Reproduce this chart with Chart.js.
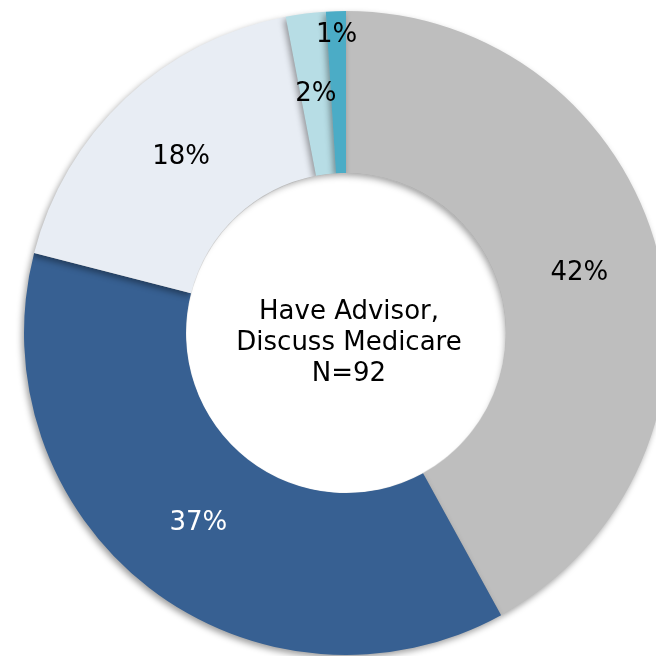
<!DOCTYPE html>
<html>
<head>
<meta charset="utf-8">
<script src="https://cdn.jsdelivr.net/npm/chart.js@4/dist/chart.umd.min.js"></script>
<style>
  html, body { margin: 0; padding: 0; background: #ffffff; overflow: hidden; width: 656px; height: 656px; }
  #wrap { position: absolute; left: 0; top: 0; width: 700px; height: 700px; }
</style>
</head>
<body>
<div id="wrap"><canvas id="c" width="700" height="700"></canvas></div>
<script>
const categories = ["Segment A", "Segment B", "Segment C", "Segment D", "Segment E"];
const values = [42, 37, 18, 2, 1];
const labels = ["42%", "37%", "18%", "2%", "1%"];
const colors = ["#BEBEBE", "#376092", "#E8EDF4", "#B7DDE5", "#4BACC6"];
const labelColors = ["#000000", "#FFFFFF", "#000000", "#000000", "#000000"];
const centerLines = ["Have Advisor,", "Discuss Medicare", "N=92"];

const FONT = "'DejaVu Sans', Verdana, sans-serif";

const shadowPlugin = {
  id: 'shadow',
  beforeDatasetsDraw(chart) {
    const ctx = chart.ctx;
    ctx.save();
    ctx.shadowColor = 'rgba(0,0,0,0.38)';
    ctx.shadowBlur = 6;
    ctx.shadowOffsetX = -2;
    ctx.shadowOffsetY = 3;
  },
  afterDatasetsDraw(chart) {
    const ctx = chart.ctx;
    ctx.restore();
    // inner hole inset shading
    const arc = chart.getDatasetMeta(0).data[0];
    const cx = arc.x, cy = arc.y, r = arc.innerRadius;
    ctx.save();
    ctx.beginPath();
    ctx.arc(cx, cy, r - 0.5, 0, Math.PI * 2);
    ctx.clip();
    ctx.fillStyle = '#ffffff';
    ctx.fillRect(cx - r - 2, cy - r - 2, 2 * r + 4, 2 * r + 4);
    ctx.beginPath();
    ctx.arc(cx, cy, r + 24, 0, Math.PI * 2);
    ctx.lineWidth = 40;
    ctx.strokeStyle = '#ffffff';
    ctx.shadowColor = 'rgba(0,0,0,0.40)';
    ctx.shadowBlur = 7;
    ctx.shadowOffsetX = -4;
    ctx.shadowOffsetY = 6;
    ctx.stroke();
    ctx.restore();
  }
};

const labelPlugin = {
  id: 'labels',
  afterDraw(chart) {
    const ctx = chart.ctx;
    const meta = chart.getDatasetMeta(0);
    ctx.save();
    ctx.font = "26px " + FONT;
    ctx.textAlign = 'center';
    ctx.textBaseline = 'middle';
    const total = values.reduce((a, b) => a + b, 0);
    meta.data.forEach((arc, i) => {
      const mid = (arc.startAngle + arc.endAngle) / 2;
      const share = values[i] / total;
      const r = share < 0.015 ? arc.outerRadius - 24 : (arc.innerRadius + arc.outerRadius) / 2;
      const x = arc.x + Math.cos(mid) * r;
      const y = arc.y + Math.sin(mid) * r;
      ctx.fillStyle = labelColors[i];
      ctx.fillText(labels[i], x, y);
    });
    const a0 = meta.data[0];
    ctx.fillStyle = '#000000';
    const lh = 31;
    centerLines.forEach((t, i) => {
      ctx.fillText(t, a0.x + 3, a0.y - 21 + i * lh);
    });
    ctx.restore();
  }
};

new Chart(document.getElementById('c'), {
  type: 'doughnut',
  data: {
    labels: categories,
    datasets: [{
      data: values,
      backgroundColor: colors,
      borderWidth: 0,
      hoverOffset: 0
    }]
  },
  options: {
    responsive: false,
    animation: false,
    radius: 322,
    cutout: 160,
    rotation: 0,
    layout: { padding: { left: 24, top: 11, right: 32, bottom: 45 } },
    plugins: {
      legend: { display: false },
      tooltip: { enabled: false }
    },
    events: []
  },
  plugins: [shadowPlugin, labelPlugin]
});
</script>
</body>
</html>
